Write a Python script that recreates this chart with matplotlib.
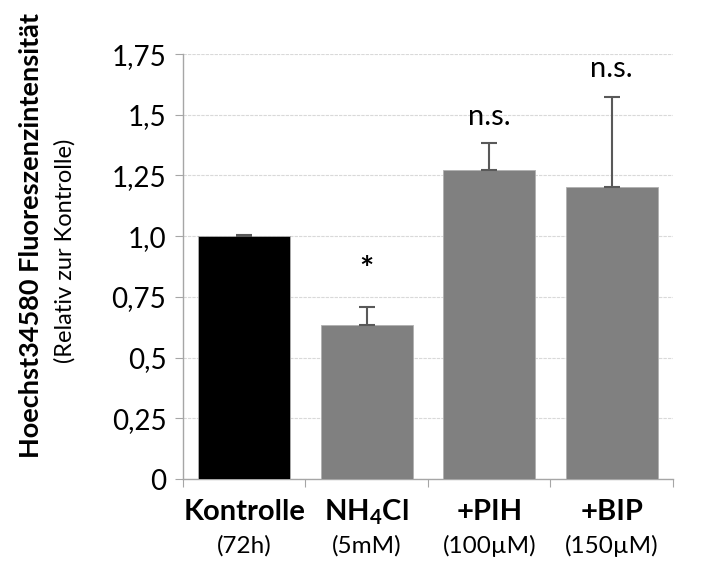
import matplotlib
matplotlib.use("Agg")
import matplotlib.pyplot as plt
import matplotlib.transforms as mtransforms

plt.rcParams['font.family'] = ['Lato', 'DejaVu Sans']
plt.rcParams['mathtext.fontset'] = 'custom'
plt.rcParams['mathtext.rm'] = 'Lato'
plt.rcParams['mathtext.bf'] = 'Lato:bold'

categories = [r'Kontrolle', r'NH$_\mathbf{4}$Cl', '+PIH', '+BIP']
sublabels = ['(72h)', '(5mM)', '(100µM)', '(150µM)']
values = [1.0, 0.635, 1.272, 1.201]
errors = [0.004, 0.075, 0.110, 0.373]
colors = ['#000000', '#808080', '#808080', '#808080']
annotations = ['', '*', 'n.s.', 'n.s.']
annot_y = [None, 0.86, 1.49, 1.69]
yticks = [0, 0.25, 0.5, 0.75, 1.0, 1.25, 1.5, 1.75]
yticklabels = ['0', '0,25', '0,5', '0,75', '1,0', '1,25', '1,5', '1,75']

fig = plt.figure(figsize=(7.01, 5.63), dpi=100)
ax = fig.add_axes([0.261, 0.149, 0.699, 0.755])

x = list(range(len(categories)))
ax.bar(x, values, width=0.75, color=colors, edgecolor='#b0b0b0', linewidth=0.6, zorder=3)
ax.errorbar(x, values, yerr=[[0]*len(errors), errors], fmt='none',
            ecolor='#595959', elinewidth=1.5, capsize=6, capthick=1.5, zorder=4)

ax.set_xlim(-0.5, 3.5)
ax.set_ylim(0, 1.75)
ax.set_yticks(yticks)
ax.set_yticklabels(yticklabels, fontsize=20)
ax.yaxis.grid(True, color='#d9d9d9', linestyle=(0, (3, 1)), linewidth=0.8, zorder=0)
ax.set_axisbelow(True)

ax.set_xticks([-0.5, 0.5, 1.5, 2.5, 3.5])
ax.set_xticklabels([])
ax.tick_params(axis='x', length=6, color='#a6a6a6', direction='out')
ax.tick_params(axis='y', length=6, color='#a6a6a6', direction='out', pad=6)

for s in ['top', 'right']:
    ax.spines[s].set_visible(False)
for s in ['left', 'bottom']:
    ax.spines[s].set_color('#a6a6a6')
    ax.spines[s].set_linewidth(1.0)

trans = mtransforms.blended_transform_factory(ax.transData, fig.transFigure)
for i, (c, sl) in enumerate(zip(categories, sublabels)):
    ax.text(i, 1 - 512/563, c, transform=trans, ha='center', va='center',
            fontsize=21, fontweight='bold')
    ax.text(i, 1 - 546/563, sl, transform=trans, ha='center', va='center', fontsize=17.5)

for i, (a, ay) in enumerate(zip(annotations, annot_y)):
    if a:
        ax.text(i, ay, a, ha='center', va='center', fontsize=24 if a == '*' else 21,
                fontweight='bold' if a == '*' else 'normal')

fig.text(31/701, 1 - 235/563, 'Hoechst34580 Fluoreszenzintensität', rotation=90,
         ha='center', va='center', fontsize=19.5, fontweight='bold')
fig.text(65/701, 1 - 251/563, '(Relativ zur Kontrolle)', rotation=90,
         ha='center', va='center', fontsize=17)

fig.savefig('out.png', dpi=100)
